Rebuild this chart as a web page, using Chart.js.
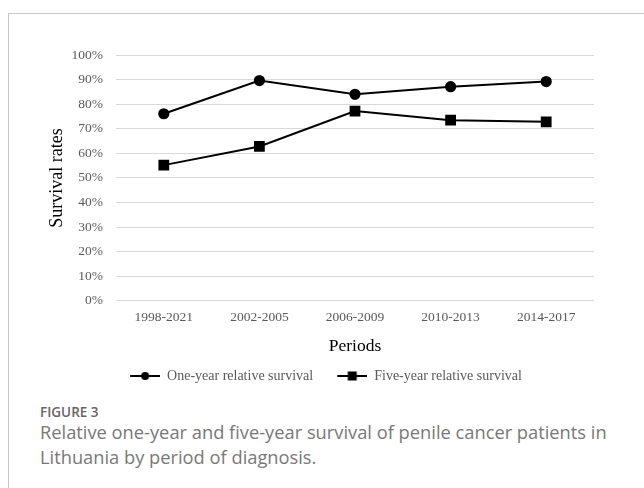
<!DOCTYPE html>
<html>
<head>
<meta charset="utf-8">
<script src="https://cdn.jsdelivr.net/npm/chart.js@4.4.1/dist/chart.umd.min.js"></script>
<style>
  html, body { margin: 0; padding: 0; background: #fff; }
  body { width: 644px; height: 488px; position: relative; overflow: hidden; }
  .frame { position: absolute; left: 8px; top: 13px; width: 700px; height: 600px;
           border-left: 1px solid #c8c8c8; border-top: 1px solid #c8c8c8; }
  #wrap { position: absolute; left: 9px; top: 14px; width: 635px; height: 379px; }
  .cap { position: absolute; left: 40px; font-family: "Open Sans", sans-serif; }
  .fig { top: 403px; font-size: 13.5px; font-weight: 600; color: #666; }
  .txt { top: 419px; font-size: 18.3px; line-height: 25px; width: 596px; color: #787878; }
</style>
</head>
<body>
<div class="frame"></div>
<div id="wrap"><canvas id="lineChart"></canvas></div>
<div class="cap fig">FIGURE 3</div>
<div class="cap txt">Relative one-year and five-year survival of penile cancer patients in Lithuania by period of diagnosis.</div>
<script>
const periods = ["1998-2021", "2002-2005", "2006-2009", "2010-2013", "2014-2017"];
const oneYear = [76.1, 89.6, 84.0, 87.1, 89.2];
const fiveYear = [55.2, 62.8, 77.2, 73.5, 72.8];
const seriesNames = ["One-year relative survival", "Five-year relative survival"];

// legend swatch: blank gap on the left, then a line with the marker in the middle
function swatch(kind) {
  var c = document.createElement("canvas");
  c.width = 46; c.height = 12;
  var g = c.getContext("2d");
  g.strokeStyle = "#000"; g.lineWidth = 2;
  g.beginPath(); g.moveTo(16, 6); g.lineTo(46, 6); g.stroke();
  g.fillStyle = "#000";
  if (kind === "circle") { g.beginPath(); g.arc(31, 6, 4, 0, Math.PI * 2); g.fill(); }
  else { g.fillRect(26.5, 1.5, 9, 9); }
  return c;
}
const swatches = [swatch("circle"), swatch("rect")];

var ctx = document.getElementById("lineChart").getContext("2d");
new Chart(ctx, {
  type: "line",
  data: {
    labels: periods,
    datasets: [
      { label: seriesNames[0], data: oneYear, borderColor: "#000", backgroundColor: "#000",
        borderWidth: 2, pointStyle: "circle", pointRadius: 4.6, pointHoverRadius: 4.6, tension: 0 },
      { label: seriesNames[1], data: fiveYear, borderColor: "#000", backgroundColor: "#000",
        borderWidth: 2, pointStyle: "rect", pointRadius: 6.2, pointHoverRadius: 6.2, tension: 0 },
    ],
  },
  options: {
    responsive: true,
    maintainAspectRatio: false,
    animation: false,
    layout: { padding: { left: 33, right: 50, top: 41, bottom: 0 } },
    plugins: {
      tooltip: { enabled: false },
      legend: {
        position: "bottom",
        labels: {
          usePointStyle: true,
          pointStyleWidth: 46,
          padding: 8,
          color: "#595959",
          font: { family: "Liberation Serif", size: 14 },
          generateLabels: function (chart) {
            return chart.data.datasets.map(function (ds, i) {
              return { text: ds.label, pointStyle: swatches[i], datasetIndex: i,
                       fontColor: "#595959", lineWidth: 0, strokeStyle: "rgba(0,0,0,0)", fillStyle: "#000" };
            });
          },
        },
      },
    },
    scales: {
      x: {
        offset: true,
        grid: { display: false, offset: true, drawTicks: false },
        border: { display: false },
        ticks: { color: "#595959", padding: 9, font: { family: "Liberation Serif", size: 13.5 } },
        title: { display: true, text: "Periods", color: "#000", padding: { top: 1, bottom: 4 },
                 font: { family: "Liberation Serif", size: 17.5 } },
      },
      y: {
        min: 0,
        max: 100,
        afterFit: function (scale) { scale.width = 74; },
        grid: { color: "#d9d9d9", lineWidth: 1, drawTicks: false },
        border: { display: false },
        ticks: { stepSize: 10, color: "#595959", padding: 13,
                 font: { family: "Liberation Serif", size: 13.5 },
                 callback: function (v) { return v + "%"; } },
        title: { display: true, text: "Survival rates", color: "#000", padding: { top: 4, bottom: 0 },
                 font: { family: "Liberation Serif", size: 18 } },
      },
    },
  },
});
</script>
</body>
</html>
